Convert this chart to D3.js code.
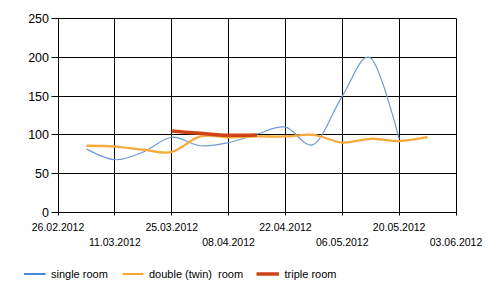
<!DOCTYPE html>
<html>
<head>
<meta charset="utf-8">
<script src="https://cdn.jsdelivr.net/npm/d3@7"></script>
<style>
  body { margin: 0; background: #fff; }
  svg text { font-family: "Liberation Sans", Arial, sans-serif; fill: #000; }
</style>
</head>
<body>
<div id="chart"></div>
<script>
// weekly dates (UTC), one per data point
var dates = ["2012-03-04", "2012-03-11", "2012-03-18", "2012-03-25", "2012-04-01",
             "2012-04-08", "2012-04-15", "2012-04-22", "2012-04-29", "2012-05-06",
             "2012-05-13", "2012-05-20", "2012-05-27"];
var singleRoom = [82, 68, 78, 97, 86, 90, 101, 110, 88, 150, 199, 95];
var doubleRoom = [86, 85, 81, 78, 98, 97, 98, 98, 100, 90, 95, 92, 97];
// triple room starts at 25.03
var tripleRoom = [105, 102, 99.5, 100];
var tripleStart = 3;

var tickDates = ["2012-02-26", "2012-03-11", "2012-03-25", "2012-04-08",
                 "2012-04-22", "2012-05-06", "2012-05-20", "2012-06-03"];
var tickLabels = ["26.02.2012", "11.03.2012", "25.03.2012", "08.04.2012",
                  "22.04.2012", "06.05.2012", "20.05.2012", "03.06.2012"];
var yTicks = [0, 50, 100, 150, 200, 250];
var seriesNames = ["single room", "double (twin)  room", "triple room"];

var width = 500, height = 296;
var margin = {top: 18.5, right: 44, bottom: 83.5, left: 58};

var parse = d3.utcParse("%Y-%m-%d");

var svg = d3.select("#chart").append("svg")
    .attr("width", width)
    .attr("height", height);

var xScale = d3.scaleUtc()
    .domain([parse(tickDates[0]), parse(tickDates[tickDates.length - 1])])
    .range([margin.left, width - margin.right]);

var yScale = d3.scaleLinear()
    .domain([0, 250])
    .range([height - margin.bottom, margin.top]);

function crisp(v) { return Math.round(v - 0.5) + 0.5; }

//grid lines
var grid = svg.append("g").attr("class", "grid");
grid.selectAll("line.h")
    .data(yTicks)
    .enter()
    .append("line")
    .attr("class", "h")
    .attr("x1", crisp(xScale.range()[0]) - 7)
    .attr("x2", crisp(xScale.range()[1]))
    .attr("y1", function(d){ return crisp(yScale(d)); })
    .attr("y2", function(d){ return crisp(yScale(d)); })
    .attr("stroke", "#000");

grid.selectAll("line.v")
    .data(tickDates)
    .enter()
    .append("line")
    .attr("class", "v")
    .attr("x1", function(d){ return crisp(xScale(parse(d))); })
    .attr("x2", function(d){ return crisp(xScale(parse(d))); })
    .attr("y1", crisp(yScale(250)))
    .attr("y2", crisp(yScale(0)) + 3)
    .attr("stroke", "#000");

//y labels
svg.append("g").selectAll("text")
    .data(yTicks)
    .enter()
    .append("text")
    .attr("x", margin.left - 9)
    .attr("y", function(d){ return yScale(d); })
    .attr("dy", "0.36em")
    .attr("text-anchor", "end")
    .style("font-size", "12.5px")
    .text(function(d){ return d; });

//x labels, alternating rows
svg.append("g").selectAll("text")
    .data(tickDates)
    .enter()
    .append("text")
    .attr("x", function(d){ return xScale(parse(d)); })
    .attr("y", function(d, i){ return i % 2 == 0 ? 230.5 : 245.5; })
    .attr("text-anchor", "middle")
    .style("font-size", "10.5px")
    .text(function(d, i){ return tickLabels[i]; });

//lines
var line = d3.line()
    .x(function(d){ return xScale(d.date); })
    .y(function(d){ return yScale(d.value); })
    .curve(d3.curveCardinal.tension(0));

function toPoints(values, offset) {
    return values.map(function(v, i){
        return {date: parse(dates[i + offset]), value: v};
    });
}

var series = [
    {name: seriesNames[0], points: toPoints(singleRoom, 0), color: "#6d9ad9", width: 1.2, legendColor: "#4a88e0", legendWidth: 2},
    {name: seriesNames[1], points: toPoints(doubleRoom, 0), color: "#f7a93a", width: 2.3, legendColor: "#f5a630", legendWidth: 2},
    {name: seriesNames[2], points: toPoints(tripleRoom, tripleStart), color: "#cf4317", width: 3.5, legendColor: "#cc4318", legendWidth: 3.5}
];

svg.append("g").selectAll("path")
    .data(series)
    .enter()
    .append("path")
    .attr("fill", "none")
    .attr("stroke", function(d){ return d.color; })
    .attr("stroke-width", function(d){ return d.width; })
    .attr("stroke-linejoin", "round")
    .attr("d", function(d){ return line(d.points); });

//legend
var legendX = [24, 122.5, 256.5];
var legendLen = [21.5, 21, 22.5];
var legend = svg.append("g").selectAll("g")
    .data(series)
    .enter()
    .append("g")
    .attr("transform", function(d, i){ return "translate(" + legendX[i] + ",274)"; });

legend.append("line")
    .attr("x1", 0)
    .attr("x2", function(d, i){ return legendLen[i]; })
    .attr("y1", 0)
    .attr("y2", 0)
    .attr("stroke", function(d){ return d.legendColor; })
    .attr("stroke-width", function(d){ return d.legendWidth; });

legend.append("text")
    .attr("x", function(d, i){ return legendLen[i] + 5.5; })
    .attr("y", 0)
    .attr("dy", "0.36em")
    .style("font-size", "11px")
    .style("white-space", "pre")
    .text(function(d){ return d.name; });
</script>
</body>
</html>
